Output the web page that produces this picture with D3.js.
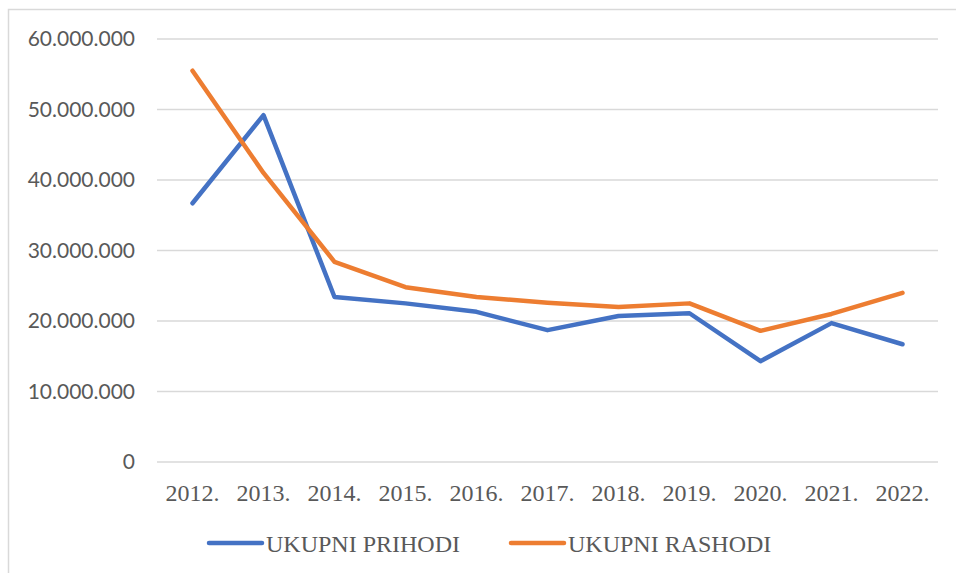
<!DOCTYPE html>
<html>
<head>
<meta charset="utf-8">
<script src="https://cdn.jsdelivr.net/npm/d3@7"></script>
<style>
  html, body { margin: 0; padding: 0; background: #fff; }
  svg { display: block; }
</style>
</head>
<body>
<svg id="chart" width="956" height="573"></svg>
<script>
const years = ["2012.", "2013.", "2014.", "2015.", "2016.", "2017.", "2018.", "2019.", "2020.", "2021.", "2022."];
const prihodi = [36700000, 49200000, 23400000, 22500000, 21300000, 18700000, 20700000, 21100000, 14300000, 19700000, 16700000];
const rashodi = [55500000, 41000000, 28400000, 24800000, 23400000, 22600000, 22000000, 22500000, 18600000, 21000000, 24000000];
const yTicks = [0, 10000000, 20000000, 30000000, 40000000, 50000000, 60000000];
const seriesNames = ["UKUPNI PRIHODI", "UKUPNI RASHODI"];
const seriesColors = ["#4472C4", "#ED7D31"];

const svg = d3.select("#chart");
const W = 956, H = 573;
const plot = { left: 157, right: 938, top: 39, bottom: 462 };

// chart frame
svg.append("rect")
  .attr("x", 8.5).attr("y", 9.5)
  .attr("width", W + 10).attr("height", H + 10)
  .attr("fill", "none").attr("stroke", "#d9d9d9").attr("stroke-width", 1.5);

const x = d3.scaleBand().domain(years).range([plot.left, plot.right]);
const y = d3.scaleLinear().domain([0, 60000000]).range([plot.bottom, plot.top]);

const fmt = v => v === 0 ? "0" : d3.format(",")(v).replace(/,/g, ".");

// gridlines
svg.append("g")
  .selectAll("line").data(yTicks).join("line")
  .attr("x1", plot.left).attr("x2", plot.right)
  .attr("y1", d => y(d)).attr("y2", d => y(d))
  .attr("stroke", "#d9d9d9").attr("stroke-width", 1.5);

// y axis labels
const yAxis = d3.axisLeft(y).tickValues(yTicks).tickFormat(fmt).tickSize(0).tickPadding(0);
const yg = svg.append("g").attr("transform", `translate(135,0)`).call(yAxis);
yg.select(".domain").remove();
yg.selectAll("text")
  .attr("fill", "#595959")
  .style("font-family", "Lato, 'Open Sans', sans-serif")
  .style("font-size", "21px");

// x axis labels
const xAxis = d3.axisBottom(x).tickSize(0).tickPadding(0);
const xg = svg.append("g").attr("transform", `translate(0,${plot.bottom})`).call(xAxis);
xg.select(".domain").remove();
xg.selectAll("text")
  .attr("dy", null).attr("y", 39)
  .attr("fill", "#595959")
  .style("font-family", "'Liberation Serif', 'Times New Roman', serif")
  .style("font-size", "24px");

// lines
const line = d3.line()
  .x((d, i) => x(years[i]) + x.bandwidth() / 2)
  .y(d => y(d));

[prihodi, rashodi].forEach((s, i) => {
  svg.append("path")
    .datum(s)
    .attr("d", line)
    .attr("fill", "none")
    .attr("stroke", seriesColors[i])
    .attr("stroke-width", 4.5)
    .attr("stroke-linejoin", "round")
    .attr("stroke-linecap", "round");
});

// legend
const legendItems = [
  { name: seriesNames[0], color: seriesColors[0], x0: 209 },
  { name: seriesNames[1], color: seriesColors[1], x0: 511 }
];
const lg = svg.append("g");
legendItems.forEach(it => {
  lg.append("line")
    .attr("x1", it.x0).attr("x2", it.x0 + 53)
    .attr("y1", 543).attr("y2", 543)
    .attr("stroke", it.color).attr("stroke-width", 4.5)
    .attr("stroke-linecap", "round");
  lg.append("text")
    .attr("x", it.x0 + 57).attr("y", 552)
    .attr("fill", "#595959")
    .style("font-family", "'Liberation Serif', 'Times New Roman', serif")
    .style("font-size", "24px")
    .text(it.name);
});
</script>
</body>
</html>
